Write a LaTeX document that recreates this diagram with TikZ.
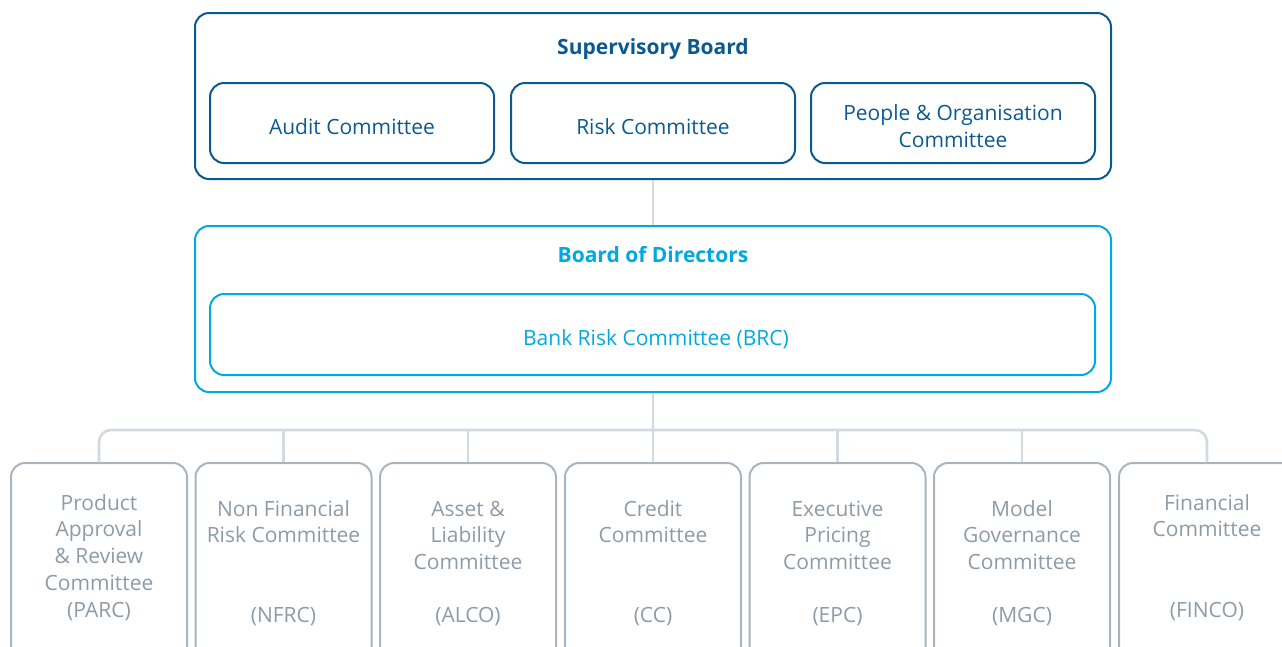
\documentclass[tikz,border=0pt]{standalone}
\usepackage{fontspec}
\setmainfont{Open Sans}
\definecolor{navy}{RGB}{11,90,143}
\definecolor{cyanb}{RGB}{0,169,224}
\definecolor{greytext}{RGB}{140,155,167}
\definecolor{greybox}{RGB}{168,181,191}
\definecolor{greyline}{RGB}{211,217,222}
\begin{document}
\begin{tikzpicture}[x=1pt,y=-1pt,
  outerbox/.style={draw, line width=2pt, rounded corners=14pt, minimum width=916pt, minimum height=166pt, inner sep=0pt},
  innerbox/.style={draw, line width=2pt, rounded corners=14pt, minimum height=80pt, inner sep=0pt},
  botbox/.style={draw=greybox, line width=2pt, rounded corners=14pt, minimum width=176pt, minimum height=220pt, anchor=north, inner sep=0pt},
  lbl/.style={font=\fontsize{21}{27}\selectfont, align=center, anchor=base, inner sep=0pt},
  ttl/.style={font=\fontsize{21}{27}\selectfont\bfseries, anchor=base, inner sep=0pt},
  blbl/.style={lbl, font=\fontsize{21}{26.7}\selectfont, text=greytext},
  conn/.style={draw=greyline, line width=2.6pt}]
\useasboundingbox (0,0) rectangle (1282,646);
\clip (0,0) rectangle (1282,646);
% Supervisory board
\node[outerbox, draw=navy] (sb) at (653,96) {};
\node[ttl, text=navy] (sbt) at (653,54) {Supervisory Board};
\node[innerbox, draw=navy, minimum width=284pt] (ac) at (352,123) {};
\node[innerbox, draw=navy, minimum width=284pt] (rc) at (653,123) {};
\node[innerbox, draw=navy, minimum width=284pt] (pc) at (953,123) {};
\node[lbl, text=navy] (act) at (352,134) {Audit Committee};
\node[lbl, text=navy] (rct) at (653,134) {Risk Committee};
\node[lbl, text=navy] (pct) at (953,147) {People \& Organisation\\Committee};
% Board of directors
\node[outerbox, draw=cyanb] (bod) at (653,309) {};
\node[ttl, text=cyanb] (bodt) at (653,262) {Board of Directors};
\node[innerbox, draw=cyanb, minimum width=885pt, minimum height=81pt] (brc) at (652.5,334.5) {};
\node[lbl, text=cyanb] (brct) at (656,345) {Bank Risk Committee (BRC)};
% bottom boxes
\node[botbox] (b1) at (99,462) {};
\node[botbox] (b2) at (283.5,462) {};
\node[botbox] (b3) at (468,462) {};
\node[botbox] (b4) at (653,462) {};
\node[botbox] (b5) at (837.5,462) {};
\node[botbox] (b6) at (1022,462) {};
\node[botbox] (b7) at (1207,462) {};
\node[blbl] (t1) at (99,617) {Product\\Approval\\\& Review\\Committee\\(PARC)};
\node[blbl] (t2) at (283.5,542.7) {Non Financial\\Risk Committee};
\node[blbl] (a2) at (283.5,622) {(NFRC)};
\node[blbl] (t3) at (468,569.4) {Asset \&\\Liability\\Committee};
\node[blbl] (a3) at (468,622) {(ALCO)};
\node[blbl] (t4) at (653,542.7) {Credit\\Committee};
\node[blbl] (a4) at (653,622) {(CC)};
\node[blbl] (t5) at (837.5,569.4) {Executive\\Pricing\\Committee};
\node[blbl] (a5) at (837.5,622) {(EPC)};
\node[blbl] (t6) at (1022,569.4) {Model\\Governance\\Committee};
\node[blbl] (a6) at (1022,622) {(MGC)};
\node[blbl] (t7) at (1207,536.7) {Financial\\Committee};
\node[blbl] (a7) at (1207,617) {(FINCO)};
% connectors
\coordinate (bar) at (653,430);
\draw[conn] (sb.south) -- (bod.north);
\draw[conn] (bod.south) -- (bar);
\draw[conn, rounded corners=12pt] (b1.north) |- (bar) -| (b7.north);
\draw[conn] (bar) -- (b4.north);
\draw[conn] (b2.north) -- (b2.north |- bar);
\draw[conn] (b3.north) -- (b3.north |- bar);
\draw[conn] (b5.north) -- (b5.north |- bar);
\draw[conn] (b6.north) -- (b6.north |- bar);
\end{tikzpicture}
\end{document}
